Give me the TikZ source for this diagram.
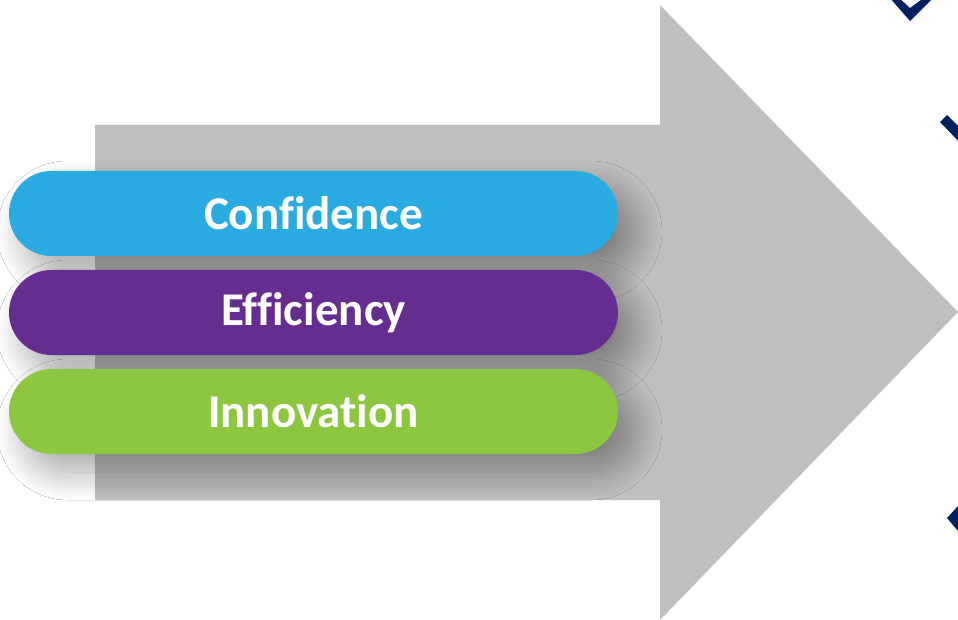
\documentclass[tikz,border=0pt]{standalone}
\usepackage{fontspec}
\setmainfont{Carlito}[Ligatures=NoCommon]
\usetikzlibrary{shadows.blur}
\definecolor{arrowgray}{HTML}{BFBFBF}
\definecolor{cblue}{HTML}{29ABE2}
\definecolor{cpurple}{HTML}{662D91}
\definecolor{cgreen}{HTML}{8DC63F}
\definecolor{navy}{HTML}{012060}
\tikzset{
  pill/.style={draw=none, rounded corners=42.5pt, minimum width=609pt, minimum height=85pt,
    inner sep=0pt, text=white, font=\fontsize{47}{52}\selectfont\bfseries,
    blur shadow={shadow xshift=16pt, shadow yshift=-18pt, shadow blur radius=28pt,
      shadow blur steps=30, shadow opacity=35}},
  navymark/.style={fill=navy, draw=none}
}
\begin{document}
\begin{tikzpicture}[x=1pt,y=-1pt]
\useasboundingbox (0,0) rectangle (958,620);
\fill[white] (0,0) rectangle (958,620);
% big arrow
\fill[arrowgray] (95,125) -- (660,125) -- (660,5) -- (958,312) -- (660,620) -- (660,500) -- (95,500) -- cycle;
% pills
\node[pill, fill=cblue] (conf) at (313.5,213.5) {Confidence};
\node[pill, fill=cpurple] (eff) at (313.5,312.5) {Efficiency};
\node[pill, fill=cgreen] (inn) at (313.5,411.5) {Innovation};
% navy marks cut by the border
\begin{scope}
\clip (0,0) rectangle (958,620);
\fill[navymark] (889,-3) -- (910,21) -- (934,-3) -- (925,-3) -- (910,8) -- (898,-3) -- cycle;
\fill[navymark] (940,122) -- (947,115) -- (970,138) -- (963,146) -- cycle;
\fill[navymark] (958,506) -- (947,518) -- (958,531) -- cycle;
\end{scope}
\end{tikzpicture}
\end{document}
